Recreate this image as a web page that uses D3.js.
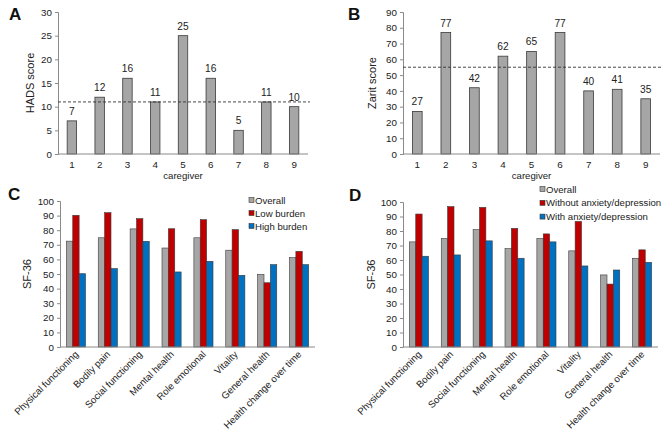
<!DOCTYPE html>
<html>
<head>
<meta charset="utf-8">
<script src="https://cdn.jsdelivr.net/npm/d3@7"></script>
<style>
  body { margin: 0; background: #fff; }
  svg { font-family: "Liberation Sans", Arial, sans-serif; }
  .tick text { fill: #222; font-size: 9.8px; }
  .domain, .tick line { stroke: #8a8a8a; }
</style>
</head>
<body>
<div id="chart"></div>
<script>
const caregivers = ["1", "2", "3", "4", "5", "6", "7", "8", "9"];
const hadsScores = [7, 12, 16, 11, 25, 16, 5, 11, 10];
const zaritScores = [27, 77, 42, 62, 65, 77, 40, 41, 35];
const hadsCutoff = 11;
const zaritCutoff = 55;

const sf36Domains = ["Physical functioning", "Bodily pain", "Social functioning", "Mental health",
  "Role emotional", "Vitality", "General health", "Health change over time"];
const overallSF36 = [72.5, 74.8, 80.9, 67.8, 74.8, 66.3, 49.7, 61.2];
const lowBurden = [90.2, 92.0, 87.9, 81.0, 87.2, 80.4, 44.0, 65.5];
const highBurden = [50.2, 53.7, 72.4, 51.4, 58.7, 49.1, 56.4, 56.4];
const withoutAnxDep = [91.7, 96.8, 96.3, 81.8, 78.0, 86.6, 43.4, 67.0];
const withAnxDep = [62.6, 63.5, 73.2, 61.2, 72.5, 55.9, 53.1, 58.4];

const burdenSeries = ["Overall", "Low burden", "High burden"];
const anxDepSeries = ["Overall", "Without anxiety/depression", "With anxiety/depression"];

const W = 669, H = 434;
const COLORS = ["#a6a6a6", "#c00000", "#0070c0"];

const svg = d3.select("#chart").append("svg").attr("width", W).attr("height", H);

// simple bar panels (A, B)
function simplePanel(opt) {
  const g = svg.append("g");
  const x = d3.scaleBand().domain(caregivers).range([opt.x0, opt.x1]);
  const y = d3.scaleLinear().domain([0, opt.max]).range([opt.y1, opt.y0]);
  const bw = x.step() * 0.34;

  g.append("g").attr("transform", "translate(" + opt.x0 + ",0)")
    .call(d3.axisLeft(y).ticks(opt.max / opt.step).tickSize(3).tickPadding(3).tickSizeOuter(3));

  g.selectAll("rect.bar").data(opt.values).enter().append("rect")
    .attr("x", (d, i) => x(caregivers[i]) + x.bandwidth() / 2 - bw / 2)
    .attr("y", d => y(d))
    .attr("width", bw)
    .attr("height", d => y(0) - y(d))
    .attr("fill", COLORS[0]).attr("stroke", "#3a3a3a").attr("stroke-width", 0.8);

  g.append("line").attr("x1", opt.x0).attr("x2", opt.x1)
    .attr("y1", y(0)).attr("y2", y(0)).attr("stroke", "#8a8a8a");

  g.selectAll("text.val").data(opt.values).enter().append("text")
    .attr("x", (d, i) => x(caregivers[i]) + x.bandwidth() / 2)
    .attr("y", d => y(d) - 6)
    .attr("text-anchor", "middle").attr("font-size", 10.2).attr("fill", "#222")
    .text(d => d);

  g.append("line").attr("x1", opt.x0).attr("x2", opt.x1 + 2)
    .attr("y1", y(opt.cutoff)).attr("y2", y(opt.cutoff))
    .attr("stroke", "#333").attr("stroke-dasharray", "3,2").attr("stroke-width", 0.9);

  g.selectAll("text.cat").data(caregivers).enter().append("text")
    .attr("x", d => x(d) + x.bandwidth() / 2)
    .attr("y", opt.y1 + 14)
    .attr("text-anchor", "middle").attr("font-size", 9.8).attr("fill", "#222")
    .text(d => d);

  g.append("text").attr("x", (opt.x0 + opt.x1) / 2).attr("y", opt.y1 + opt.xTitleDy)
    .attr("text-anchor", "middle").attr("font-size", 9.6).attr("fill", "#222").text("caregiver");

  g.append("text")
    .attr("transform", "translate(" + opt.yTitleX + "," + (opt.y0 + opt.y1) / 2 + ") rotate(-90)")
    .attr("text-anchor", "middle").attr("font-size", 11).attr("fill", "#222").text(opt.yTitle);

  g.append("text").attr("x", opt.letterX).attr("y", opt.letterY)
    .attr("font-size", 17).attr("font-weight", "bold").attr("fill", "#111").text(opt.letter);
}

// grouped bar panels (C, D)
function groupedPanel(opt) {
  const g = svg.append("g");
  const x = d3.scaleBand().domain(sf36Domains).range([opt.x0, opt.x1]);
  const gw = x.step() * 0.6;
  const xs = d3.scaleBand().domain(opt.series).range([0, gw]);
  const y = d3.scaleLinear().domain([0, 100]).range([opt.y1, opt.y0]);

  g.append("g").attr("transform", "translate(" + opt.x0 + ",0)")
    .call(d3.axisLeft(y).ticks(10).tickSize(3).tickPadding(3).tickSizeOuter(3));

  const rows = sf36Domains.map((d, i) => opt.values.map((v, k) => ({ dom: d, s: opt.series[k], v: v[i], k: k })));
  g.selectAll("g.grp").data(rows).enter().append("g")
    .attr("transform", r => "translate(" + (x(r[0].dom) + x.bandwidth() / 2 - gw / 2) + ",0)")
    .selectAll("rect").data(r => r).enter().append("rect")
    .attr("x", d => xs(d.s))
    .attr("y", d => y(d.v))
    .attr("width", xs.bandwidth())
    .attr("height", d => y(0) - y(d.v))
    .attr("fill", d => COLORS[d.k]).attr("stroke", "#3a3a3a").attr("stroke-width", 0.6);

  g.append("line").attr("x1", opt.x0).attr("x2", opt.x1)
    .attr("y1", y(0)).attr("y2", y(0)).attr("stroke", "#8a8a8a");

  g.selectAll("text.cat").data(sf36Domains).enter().append("text")
    .attr("transform", d => "translate(" + (x(d) + x.bandwidth() / 2 + 3) + "," + (opt.y1 + 8) + ") rotate(-45)")
    .attr("text-anchor", "end").attr("font-size", 9.7).attr("fill", "#222")
    .text(d => d);

  g.append("text")
    .attr("transform", "translate(" + opt.yTitleX + "," + (opt.y0 + opt.y1) / 2 + ") rotate(-90)")
    .attr("text-anchor", "middle").attr("font-size", 11).attr("fill", "#222").text("SF-36");

  const lg = g.append("g").attr("transform", "translate(" + opt.legX + "," + opt.legY + ")");
  opt.series.forEach((s, k) => {
    lg.append("rect").attr("x", 0).attr("y", k * opt.legStep - 2.5).attr("width", 5).attr("height", 5)
      .attr("fill", COLORS[k]).attr("stroke", "#3a3a3a").attr("stroke-width", 0.6);
    lg.append("text").attr("x", 6).attr("y", k * opt.legStep + 3.5)
      .attr("font-size", 9.6).attr("fill", "#222").text(s);
  });

  g.append("text").attr("x", opt.letterX).attr("y", opt.letterY)
    .attr("font-size", 17).attr("font-weight", "bold").attr("fill", "#111").text(opt.letter);
}

simplePanel({ values: hadsScores, cutoff: hadsCutoff, max: 30, step: 5,
  x0: 58, x1: 308, y0: 12, y1: 154, yTitle: "HADS score", yTitleX: 34,
  letter: "A", letterX: 9, letterY: 20, xTitleDy: 25 });

simplePanel({ values: zaritScores, cutoff: zaritCutoff, max: 90, step: 10,
  x0: 403, x1: 660, y0: 12, y1: 154, yTitle: "Zarit score", yTitleX: 376,
  letter: "B", letterX: 348, letterY: 20, xTitleDy: 25 });

groupedPanel({ series: burdenSeries, values: [overallSF36, lowBurden, highBurden],
  x0: 60, x1: 315, y0: 201, y1: 347, yTitleX: 31,
  legX: 249, legY: 200, legStep: 13,
  letter: "C", letterX: 8, letterY: 200 });

groupedPanel({ series: anxDepSeries, values: [overallSF36, withoutAnxDep, withAnxDep],
  x0: 403, x1: 658, y0: 202, y1: 347, yTitleX: 375,
  legX: 540, legY: 189, legStep: 13.8,
  letter: "D", letterX: 349, letterY: 201 });
</script>
</body>
</html>
